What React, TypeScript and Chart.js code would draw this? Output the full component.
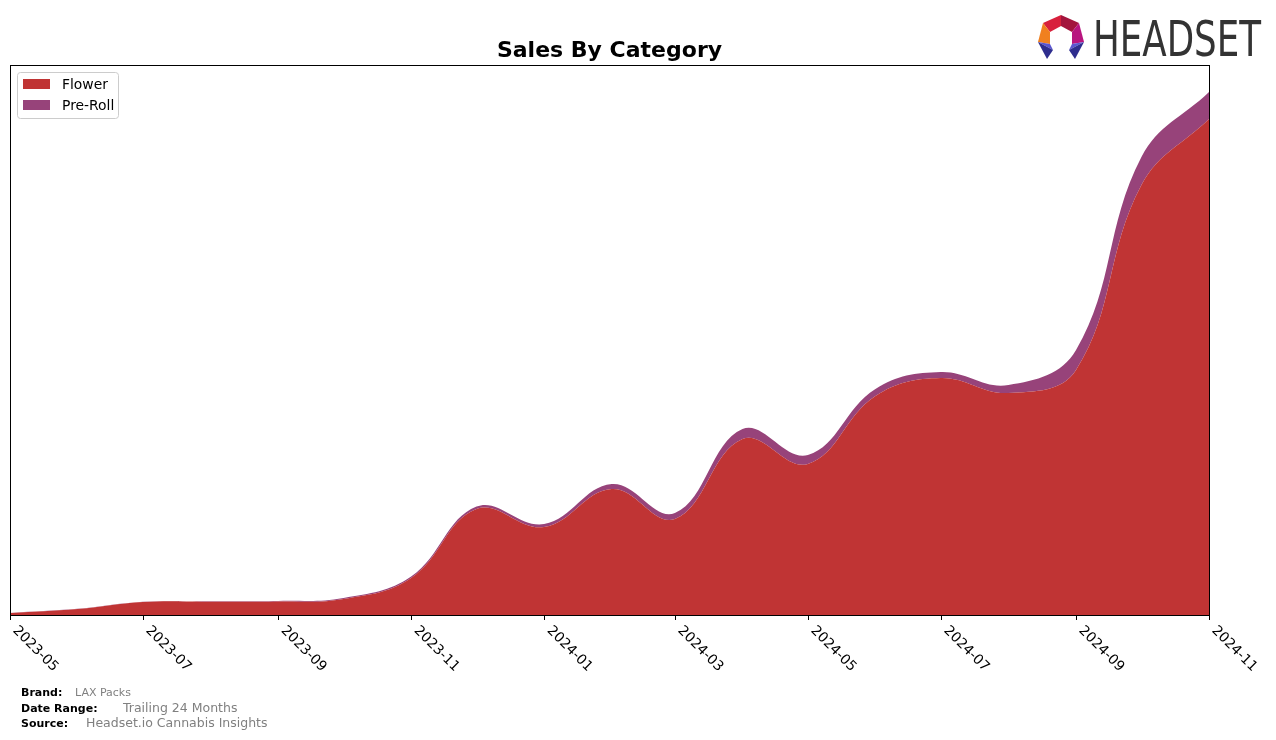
import React, { useEffect, useRef } from "react";
import { Chart, registerables } from "chart.js";

Chart.register(...registerables);

// ---- data (relative sales units) ----
const months = [
  "2023-05", "2023-06", "2023-07", "2023-08", "2023-09", "2023-10", "2023-11",
  "2023-12", "2024-01", "2024-02", "2024-03", "2024-04", "2024-05", "2024-06",
  "2024-07", "2024-08", "2024-09", "2024-10", "2024-11",
];
const flowerSales = [2, 6, 13, 13.3, 13.5, 16, 37, 106, 88, 126, 96, 176, 151, 219, 237, 222, 245, 430, 496];
const preRollSales = [0.1, 0.2, 0.3, 0.4, 0.6, 1, 1.5, 2.5, 3, 5, 6, 10, 9, 7, 6, 8, 20, 28, 27];
const tickLabels = ["2023-05", "2023-07", "2023-09", "2023-11", "2024-01", "2024-03", "2024-05", "2024-07", "2024-09", "2024-11"];
const seriesNames = ["Flower", "Pre-Roll"];
const seriesColors = ["#c03434", "#97437a"];
const yMax = 550;

const footerRows = [
  { label: "Brand:", value: "LAX Packs" },
  { label: "Date Range:", value: "Trailing 24 Months" },
  { label: "Source:", value: "Headset.io Cannabis Insights" },
];

const FONT = "'DejaVu Sans', 'Liberation Sans', sans-serif";

function dayOf(m: string): number {
  const [y0, m0] = months[0].split("-").map(Number);
  const [y, mo] = m.split("-").map(Number);
  return Math.round((Date.UTC(y, mo - 1, 1) - Date.UTC(y0, m0 - 1, 1)) / 86400000);
}

const decorPlugin = {
  id: "decor",
  afterDatasetsDraw(chart: any) {
    const ctx = chart.ctx as CanvasRenderingContext2D;
    const { left, right, top, bottom } = chart.chartArea;
    const xs = chart.scales.x;
    ctx.save();

    // frame
    ctx.strokeStyle = "#000";
    ctx.lineWidth = 1;
    ctx.strokeRect(Math.round(left) + 0.5, Math.round(top) + 0.5, Math.round(right - left), Math.round(bottom - top));

    // ticks + rotated labels
    ctx.fillStyle = "#000";
    ctx.font = `13.9px ${FONT}`;
    ctx.textAlign = "left";
    ctx.textBaseline = "alphabetic";
    tickLabels.forEach((lab) => {
      const px = xs.getPixelForValue(dayOf(lab));
      const sx = Math.round(px) + 0.5;
      ctx.beginPath();
      ctx.moveTo(sx, bottom);
      ctx.lineTo(sx, bottom + 5);
      ctx.stroke();
      ctx.save();
      ctx.translate(px + 2.3, 631);
      ctx.rotate(Math.PI / 4);
      ctx.fillText(lab, 0, 0);
      ctx.restore();
    });

    // title
    ctx.font = `bold 22px ${FONT}`;
    ctx.textAlign = "center";
    ctx.fillText("Sales By Category", (left + right) / 2, 57);

    // legend
    const lx = 17.5, ly = 72.5, lw = 101, lh = 46;
    ctx.beginPath();
    (ctx as any).roundRect(lx, ly, lw, lh, 3);
    ctx.fillStyle = "rgba(255,255,255,0.8)";
    ctx.fill();
    ctx.strokeStyle = "#cccccc";
    ctx.stroke();
    ctx.font = `13.9px ${FONT}`;
    ctx.textAlign = "left";
    ctx.textBaseline = "middle";
    seriesNames.forEach((name, i) => {
      const cy = 84 + i * 21;
      ctx.fillStyle = seriesColors[i];
      ctx.fillRect(23, cy - 5, 27, 10);
      ctx.fillStyle = "#000";
      ctx.fillText(name, 62, cy + 1);
    });

    // footer
    ctx.textBaseline = "alphabetic";
    const rowY = [696, 712, 727];
    const valX = [75, 123, 86];
    const valSize = [11, 12.5, 12.5];
    footerRows.forEach((r, i) => {
      ctx.font = `bold 11px ${FONT}`;
      ctx.fillStyle = "#000";
      ctx.fillText(r.label, 21, rowY[i]);
      ctx.font = `${valSize[i]}px ${FONT}`;
      ctx.fillStyle = "#808080";
      ctx.fillText(r.value, valX[i], rowY[i]);
    });

    ctx.restore();
  },
};

function Logo() {
  return (
    <svg width={240} height={60} viewBox="1030 5 240 60" style={{ position: "absolute", left: 1030, top: 5 }}>
      <polygon points="1061,15 1043,23 1050,32 1061,26" fill="#d8203c" />
      <polygon points="1061,15 1061,26 1072,32 1079,23" fill="#a3153d" />
      <polygon points="1043,23 1038,42 1050,44 1050,32" fill="#f0801f" />
      <polygon points="1079,23 1072,32 1072,44 1084,42" fill="#b8157f" />
      <polygon points="1038,42 1050,44 1053,50" fill="#5a55d0" />
      <polygon points="1038,42 1053,50 1047,59" fill="#2e2d8e" />
      <polygon points="1084,42 1072,44 1069,50" fill="#5a55d0" />
      <polygon points="1084,42 1069,50 1075,59" fill="#2e2d8e" />
      <text
        x={1093}
        y={56}
        textLength={168}
        lengthAdjust="spacingAndGlyphs"
        fontFamily="'DejaVu Sans Condensed', 'DejaVu Sans', sans-serif"
        fontSize={49}
        fill="#333333"
      >
        HEADSET
      </text>
    </svg>
  );
}

export default function App() {
  const ref = useRef<HTMLCanvasElement | null>(null);

  useEffect(() => {
    if (!ref.current) return;
    const xs = months.map(dayOf);
    const chart = new Chart(ref.current, {
      type: "line",
      data: {
        datasets: [
          {
            label: seriesNames[0],
            data: months.map((m, i) => ({ x: xs[i], y: flowerSales[i] })),
            backgroundColor: seriesColors[0],
            borderColor: seriesColors[0],
            borderWidth: 0,
            pointRadius: 0,
            fill: "origin",
            tension: 0.4,
          },
          {
            label: seriesNames[1],
            data: months.map((m, i) => ({ x: xs[i], y: preRollSales[i] })),
            backgroundColor: seriesColors[1],
            borderColor: seriesColors[1],
            borderWidth: 0,
            pointRadius: 0,
            fill: "-1",
            tension: 0.4,
          },
        ],
      },
      options: {
        animation: false,
        responsive: false,
        devicePixelRatio: 1,
        layout: { padding: { left: 10, top: 65, right: 67, bottom: 125 } },
        plugins: { legend: { display: false }, title: { display: false }, tooltip: { enabled: false } },
        scales: {
          x: { type: "linear", display: false, min: 0, max: xs[xs.length - 1] },
          y: { type: "linear", display: false, stacked: true, min: 0, max: yMax },
        },
      },
      plugins: [decorPlugin],
    });
    return () => chart.destroy();
  }, []);

  return (
    <div style={{ position: "fixed", left: 0, top: 0, width: 1276, height: 740, background: "#fff" }}>
      <canvas ref={ref} width={1276} height={740} style={{ position: "absolute", left: 0, top: 0 }} />
      <Logo />
    </div>
  );
}
